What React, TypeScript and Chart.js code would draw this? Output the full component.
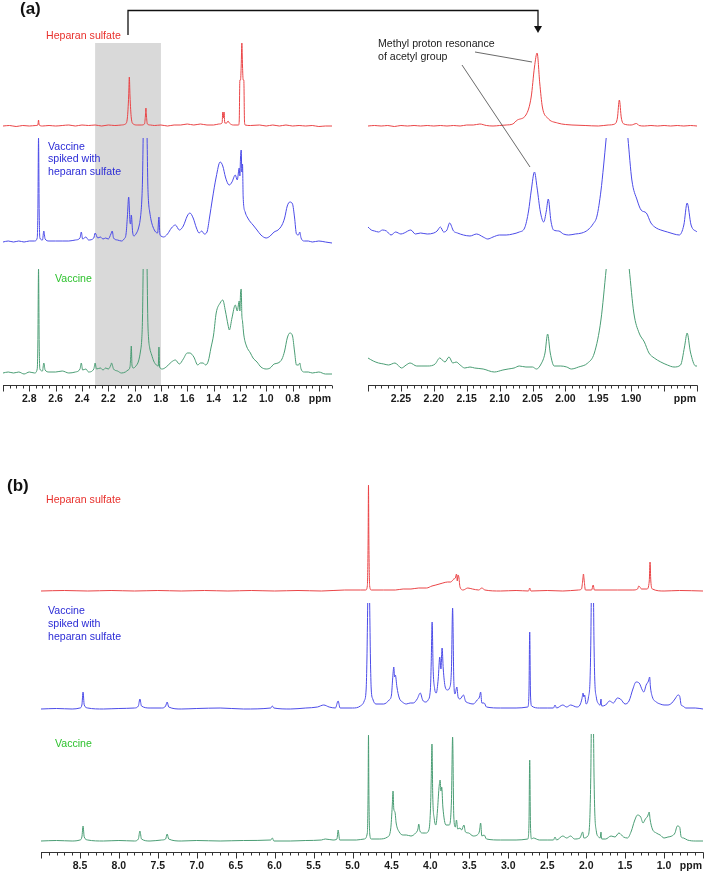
import React, { useEffect, useRef } from "react";
import { Chart, registerables } from "chart.js";

Chart.register(...registerables);

type Pt = [number, number | null];

// ---------- Panel (a) left: 3.0 – 0.5 ppm (intensity above each trace's baseline) ----------
const aLeftHeparan: Pt[] = [
  [3.0,0],[2.95,0.5],[2.9,-0.5],[2.85,0.5],[2.8,0],[2.75,0.5],[2.735,1],[2.73,6],[2.725,1],[2.7,0],[2.65,0.5],[2.6,0],[2.55,0.5],[2.5,1],[2.45,0],[2.4,1],[2.35,0.5],[2.3,1],[2.25,0],[2.2,1],[2.15,0.5],[2.1,1],[2.07,2],[2.055,8],[2.045,30],[2.04,49],[2.035,30],[2.025,8],[2.01,2],[1.98,1],[1.95,1],[1.925,2],[1.918,10],[1.914,18],[1.91,10],[1.903,2],[1.88,1],[1.85,0.5],[1.8,1],[1.75,0],[1.7,1],[1.65,1],[1.6,2],[1.55,1],[1.5,2],[1.45,1],[1.4,1],[1.36,2],[1.335,3],[1.33,14],[1.325,8],[1.32,14],[1.315,3],[1.3,3],[1.29,5],[1.28,3],[1.25,1],[1.21,1],[1.205,5],[1.2,46],[1.195,46],[1.19,60],[1.185,83],[1.18,60],[1.175,46],[1.17,46],[1.165,5],[1.16,1],[1.12,0.5],[1.05,1],[1.0,0],[0.95,1],[0.9,0],[0.85,1],[0.8,0],[0.75,0.5],[0.7,0],[0.65,0.5],[0.6,-0.5],[0.55,0],[0.5,0]
];
const aLeftSpiked: Pt[] = [
  [3.0,0],[2.96,1],[2.92,0],[2.88,1],[2.84,0],[2.8,1],[2.76,1],[2.74,4],[2.735,30],[2.73,104],[2.725,30],[2.72,4],[2.7,2],[2.69,11],[2.68,3],[2.65,1],[2.6,1],[2.55,1],[2.5,1],[2.45,2],[2.415,4],[2.405,10],[2.395,3],[2.37,5],[2.35,2],[2.31,4],[2.3,9],[2.28,4],[2.26,5],[2.24,3],[2.22,4],[2.2,3],[2.18,8],[2.17,11],[2.16,4],[2.13,2],[2.1,1],[2.08,3],[2.065,8],[2.055,25],[2.045,45],[2.035,20],[2.03,18],[2.025,27],[2.015,10],[2.005,6],[1.99,8],[1.97,14],[1.955,25],[1.946,40],[1.94,62],[1.935,104],[1.92,null],[1.905,104],[1.9,60],[1.894,40],[1.885,30],[1.875,22],[1.86,15],[1.84,10],[1.825,9],[1.815,25],[1.808,8],[1.8,6],[1.78,5],[1.75,8],[1.72,14],[1.69,17],[1.66,12],[1.63,16],[1.6,26],[1.58,29],[1.555,24],[1.53,14],[1.51,9],[1.49,11],[1.47,8],[1.45,10],[1.43,25],[1.41,42],[1.38,65],[1.35,80],[1.33,76],[1.31,65],[1.29,58],[1.28,57],[1.26,60],[1.235,67],[1.22,62],[1.205,74],[1.2,66],[1.195,85],[1.19,92],[1.185,70],[1.18,78],[1.175,45],[1.16,30],[1.14,24],[1.12,20],[1.1,17],[1.07,12],[1.04,7],[1.0,4],[0.97,6],[0.94,10],[0.91,12],[0.88,17],[0.86,24],[0.84,36],[0.82,40],[0.8,38],[0.785,25],[0.77,8],[0.755,7],[0.745,10],[0.735,4],[0.71,1],[0.68,1],[0.65,0],[0.6,1],[0.55,0],[0.5,-1]
];
const aLeftVaccine: Pt[] = [
  [3.0,0],[2.96,1],[2.92,0],[2.88,1],[2.84,-1],[2.8,1],[2.76,0],[2.74,4],[2.735,30],[2.73,104],[2.725,30],[2.72,4],[2.7,2],[2.69,10],[2.68,3],[2.65,1],[2.6,1],[2.55,2],[2.5,0],[2.45,1],[2.415,4],[2.405,10],[2.395,3],[2.37,4],[2.35,1],[2.31,4],[2.3,10],[2.29,4],[2.26,5],[2.24,3],[2.22,5],[2.2,4],[2.18,8],[2.175,10],[2.16,4],[2.13,2],[2.1,0],[2.07,1],[2.05,3],[2.035,6],[2.03,15],[2.025,27],[2.02,8],[2.01,5],[1.99,7],[1.97,12],[1.955,22],[1.946,33],[1.94,55],[1.935,104],[1.92,null],[1.905,104],[1.9,55],[1.894,35],[1.885,25],[1.87,18],[1.855,12],[1.835,8],[1.82,7],[1.815,26],[1.81,6],[1.79,4],[1.76,6],[1.72,11],[1.69,13],[1.66,9],[1.63,14],[1.6,20],[1.58,20],[1.55,16],[1.52,8],[1.5,10],[1.48,10],[1.46,8],[1.44,12],[1.42,25],[1.4,38],[1.38,60],[1.35,70],[1.33,73],[1.31,62],[1.29,48],[1.28,43],[1.26,55],[1.235,68],[1.22,62],[1.205,72],[1.2,62],[1.195,80],[1.19,84],[1.185,58],[1.18,52],[1.17,38],[1.15,27],[1.12,20],[1.1,15],[1.07,11],[1.04,6],[1.0,4],[0.97,5],[0.94,9],[0.91,10],[0.88,14],[0.86,22],[0.84,35],[0.82,40],[0.8,37],[0.785,22],[0.77,8],[0.755,8],[0.745,10],[0.735,4],[0.71,1],[0.68,1],[0.65,0],[0.6,1],[0.55,-1],[0.5,-1]
];

// ---------- Panel (a) right: 2.30 – 1.80 ppm ----------
const aRightHeparan: Pt[] = [
  [2.3,0],[2.29,0.5],[2.28,0],[2.27,0.5],[2.26,-0.5],[2.25,0.5],[2.24,0],[2.23,0.5],[2.22,0],[2.21,0.5],[2.2,0],[2.19,0.5],[2.18,0],[2.17,0.5],[2.16,0],[2.15,1],[2.14,1],[2.13,2],[2.12,0.5],[2.11,0],[2.1,0.5],[2.09,1],[2.08,2],[2.073,6],[2.06,11],[2.052,29],[2.047,59],[2.043,73],[2.039,43],[2.035,19],[2.027,8],[2.012,3],[2.0,1.5],[1.99,1],[1.97,0.5],[1.95,0],[1.935,1],[1.925,2],[1.921,8],[1.918,26],[1.915,8],[1.911,2],[1.9,1],[1.892,2.5],[1.888,0.5],[1.88,0],[1.87,0.5],[1.86,0],[1.85,0.5],[1.84,0],[1.83,0.5],[1.82,0],[1.81,0.5],[1.8,0]
];
const aRightSpiked: Pt[] = [
  [2.3,9],[2.295,6],[2.29,5],[2.284,4],[2.278,6],[2.272,5],[2.265,1],[2.258,4],[2.25,2],[2.245,3],[2.235,6],[2.228,2],[2.22,3],[2.21,2],[2.2,3],[2.195,5],[2.19,9],[2.185,4],[2.18,6],[2.176,13],[2.17,5],[2.164,3],[2.155,1],[2.145,0],[2.135,2],[2.125,-1],[2.118,-3],[2.11,-1],[2.1,1],[2.09,1],[2.08,2],[2.07,4],[2.062,8],[2.056,25],[2.052,45],[2.047,64],[2.043,48],[2.038,24],[2.033,14],[2.029,25],[2.026,37],[2.022,15],[2.018,6],[2.01,5],[2.003,2],[1.995,1],[1.985,2],[1.975,3],[1.966,6],[1.958,12],[1.952,20],[1.946,45],[1.942,70],[1.938,98],[1.92,null],[1.905,98],[1.899,56],[1.891,36],[1.885,26],[1.877,23],[1.87,13],[1.862,8],[1.855,6],[1.845,4],[1.835,2],[1.827,1],[1.82,11],[1.815,33],[1.809,11],[1.8,4]
];
const aRightVaccine: Pt[] = [
  [2.3,9],[2.292,6],[2.284,4],[2.276,3],[2.269,2],[2.259,4],[2.249,-1],[2.242,2],[2.236,4],[2.226,1],[2.218,1],[2.209,1],[2.198,3],[2.191,9],[2.183,5],[2.177,10],[2.171,4],[2.166,5],[2.16,2],[2.153,-1],[2.145,0],[2.138,-1],[2.125,-2],[2.108,-5],[2.095,-3],[2.087,-2],[2.078,-1],[2.07,1],[2.06,0],[2.05,0],[2.044,-2],[2.037,3],[2.031,14],[2.027,33],[2.023,14],[2.017,1],[2.007,1],[1.998,0],[1.991,-2],[1.98,0],[1.966,4],[1.956,14],[1.946,47],[1.938,98],[1.92,null],[1.903,98],[1.896,54],[1.888,34],[1.88,25],[1.873,14],[1.865,9],[1.855,5],[1.845,2],[1.835,0],[1.825,2],[1.819,20],[1.815,34],[1.81,15],[1.802,1],[1.8,1]
];

// ---------- Panel (b): 9.0 – 0.5 ppm ----------
const bHeparan: Pt[] = [
  [9.0,0],[8.7,0.5],[8.4,0],[8.1,0.5],[7.8,0],[7.5,0.5],[7.2,0],[6.9,0.5],[6.6,0],[6.3,0.5],[6.0,0],[5.7,0.5],[5.4,0],[5.1,1],[4.9,1],[4.83,1],[4.81,5],[4.8,50],[4.795,106],[4.79,50],[4.78,5],[4.76,1],[4.6,1],[4.45,1],[4.35,2],[4.25,2],[4.15,3],[4.05,3],[3.98,5],[3.93,6],[3.84,8],[3.78,9],[3.74,9],[3.7,12],[3.68,13],[3.665,17],[3.655,10],[3.645,16],[3.635,14],[3.62,4],[3.58,1],[3.52,3],[3.46,2],[3.38,1],[3.34,3],[3.3,1],[3.1,0],[2.9,0.5],[2.74,0],[2.725,3],[2.71,0],[2.5,0.5],[2.3,0],[2.1,1],[2.06,2],[2.045,10],[2.035,17],[2.025,10],[2.01,1],[1.93,1],[1.91,6],[1.895,1],[1.6,1],[1.4,1],[1.34,2],[1.325,5],[1.31,4],[1.29,2],[1.22,2],[1.19,10],[1.18,29],[1.17,10],[1.15,2],[1.0,0],[0.8,0.5],[0.5,0]
];
const bSpiked: Pt[] = [
  [9.0,0],[8.8,0.5],[8.6,0],[8.5,1],[8.475,4],[8.46,17],[8.445,4],[8.4,1],[8.2,0],[8.0,0.5],[7.8,1],[7.75,3],[7.73,10],[7.71,3],[7.6,1],[7.45,1],[7.4,3],[7.38,7],[7.36,2],[7.2,0],[7.0,0.5],[6.7,1],[6.4,0],[6.05,1],[6.03,3],[6.01,1],[5.8,0],[5.6,1],[5.45,2],[5.37,4],[5.3,2],[5.22,1],[5.185,8],[5.16,1],[5.0,1],[4.9,3],[4.85,8],[4.825,20],[4.815,50],[4.805,106],[4.79,null],[4.78,106],[4.77,50],[4.76,20],[4.74,10],[4.7,5],[4.6,5],[4.53,9],[4.5,14],[4.485,30],[4.47,42],[4.46,32],[4.45,34],[4.43,22],[4.4,11],[4.36,7],[4.31,5],[4.26,6],[4.22,6],[4.17,10],[4.13,16],[4.1,9],[4.06,7],[4.03,9],[4.0,20],[3.99,45],[3.978,87],[3.965,40],[3.945,20],[3.925,16],[3.9,30],[3.88,52],[3.865,40],[3.85,61],[3.835,40],[3.81,22],[3.78,19],[3.755,21],[3.73,40],[3.715,101],[3.7,30],[3.685,15],[3.66,22],[3.645,12],[3.62,10],[3.575,14],[3.55,8],[3.51,6],[3.45,5],[3.4,9],[3.37,12],[3.355,17],[3.34,6],[3.31,6],[3.28,2],[3.1,1],[2.9,1],[2.75,2],[2.735,15],[2.725,77],[2.715,15],[2.7,3],[2.6,1],[2.5,1],[2.42,1],[2.4,4],[2.38,1],[2.3,4],[2.25,2],[2.2,4],[2.12,2],[2.08,4],[2.055,10],[2.04,16],[2.03,12],[2.02,14],[2.0,5],[1.97,12],[1.95,30],[1.94,70],[1.935,106],[1.92,null],[1.905,106],[1.9,70],[1.89,30],[1.87,12],[1.84,5],[1.82,4],[1.81,10],[1.8,3],[1.75,4],[1.7,8],[1.65,6],[1.6,11],[1.56,10],[1.5,5],[1.45,8],[1.4,20],[1.36,27],[1.32,26],[1.28,19],[1.26,17],[1.23,24],[1.2,28],[1.185,32],[1.175,22],[1.15,12],[1.1,7],[1.05,5],[1.0,4],[0.95,4],[0.9,6],[0.86,10],[0.82,14],[0.8,13],[0.78,4],[0.76,3],[0.72,1],[0.6,1],[0.5,0]
];
const bVaccine: Pt[] = [
  [9.0,0],[8.8,0.5],[8.6,0],[8.5,1],[8.475,4],[8.46,15],[8.445,4],[8.4,1],[8.2,0],[8.0,0.5],[7.8,0],[7.75,2],[7.73,10],[7.71,2],[7.6,0],[7.45,1],[7.4,2],[7.38,7],[7.36,2],[7.2,0],[7.0,0.5],[6.7,0],[6.4,0.5],[6.05,1],[6.03,3],[6.01,0],[5.8,0],[5.6,0.5],[5.4,1],[5.35,2],[5.25,1],[5.2,2],[5.185,11],[5.165,1],[4.95,1],[4.85,2],[4.81,8],[4.8,50],[4.795,106],[4.79,50],[4.78,8],[4.76,2],[4.65,2],[4.55,4],[4.51,12],[4.49,35],[4.48,50],[4.47,32],[4.455,29],[4.44,18],[4.4,9],[4.35,6],[4.31,6],[4.25,5],[4.19,8],[4.16,12],[4.15,17],[4.135,10],[4.1,8],[4.06,8],[4.02,11],[4.0,30],[3.99,60],[3.98,97],[3.97,45],[3.95,22],[3.93,16],[3.91,30],[3.89,53],[3.875,61],[3.865,50],[3.855,54],[3.84,34],[3.8,16],[3.76,16],[3.73,40],[3.715,104],[3.7,25],[3.68,14],[3.665,21],[3.65,12],[3.62,13],[3.6,11],[3.57,16],[3.55,9],[3.51,8],[3.45,5],[3.4,6],[3.37,10],[3.355,18],[3.34,5],[3.31,6],[3.28,2],[3.1,1],[2.9,1],[2.75,2],[2.735,15],[2.725,81],[2.715,15],[2.7,2],[2.68,3],[2.6,1],[2.5,1],[2.42,1],[2.4,4],[2.38,1],[2.3,5],[2.25,3],[2.2,5],[2.15,2],[2.08,3],[2.045,9],[2.03,3],[1.98,5],[1.96,12],[1.95,30],[1.94,70],[1.935,107],[1.92,null],[1.905,107],[1.9,70],[1.89,30],[1.87,10],[1.84,4],[1.82,3],[1.81,9],[1.8,2],[1.75,2],[1.68,5],[1.63,4],[1.58,8],[1.52,4],[1.47,3],[1.42,10],[1.38,20],[1.34,26],[1.3,24],[1.27,18],[1.24,22],[1.21,25],[1.19,29],[1.18,22],[1.15,12],[1.1,8],[1.05,6],[1.0,3],[0.95,4],[0.9,5],[0.86,8],[0.83,15],[0.8,14],[0.78,4],[0.75,3],[0.7,1],[0.6,0],[0.5,0]
];

// ---------- Axis ticks ----------
const aLeftMajorTicks = [3.0, 2.8, 2.6, 2.4, 2.2, 2.0, 1.8, 1.6, 1.4, 1.2, 1.0, 0.8, 0.6];
const aLeftTickLabels = [2.8, 2.6, 2.4, 2.2, 2.0, 1.8, 1.6, 1.4, 1.2, 1.0, 0.8];
const aRightMajorTicks = [2.3, 2.25, 2.2, 2.15, 2.1, 2.05, 2.0, 1.95, 1.9, 1.85, 1.8];
const aRightTickLabels = [2.25, 2.2, 2.15, 2.1, 2.05, 2.0, 1.95, 1.9];
const bMajorTicks = [9.0, 8.5, 8.0, 7.5, 7.0, 6.5, 6.0, 5.5, 5.0, 4.5, 4.0, 3.5, 3.0, 2.5, 2.0, 1.5, 1.0, 0.5];
const bTickLabels = [8.5, 8.0, 7.5, 7.0, 6.5, 6.0, 5.5, 5.0, 4.5, 4.0, 3.5, 3.0, 2.5, 2.0, 1.5, 1.0];
const highlightRange = [2.3, 1.8];

// ---------- Styles ----------
const RED = "#ea4446";
const BLUE = "#4b4be8";
const GREEN = "#4a9d74";
const RED_TXT = "#e8302c";
const BLUE_TXT = "#2b2bd6";
const GREEN_TXT = "#2ec22e";
const FONT = "'Liberation Sans', Arial, Helvetica, sans-serif";
const PAD = 2;
const AXIS_SPACE = 20;

interface Series { data: Pt[]; color: string; offset: number }
interface PanelSpec {
  axisLeft: number; axisWidth: number; top: number; areaHeight: number;
  xMin: number; xMax: number;
  series: Series[];
  majors: number[]; labels: number[]; minorStep: number; digits: number;
  band?: { from: number; to: number; top: number };
}

function Spectrum({ spec }: { spec: PanelSpec }) {
  const ref = useRef<HTMLCanvasElement | null>(null);
  useEffect(() => {
    const canvas = ref.current;
    if (!canvas) return;
    const plugin = {
      id: "nmrAxis",
      beforeDatasetsDraw(chart: any) {
        if (!spec.band) return;
        const { ctx, chartArea } = chart;
        const xs = chart.scales.x, ys = chart.scales.y;
        const x1 = xs.getPixelForValue(spec.band.from);
        const x2 = xs.getPixelForValue(spec.band.to);
        const yt = ys.getPixelForValue(spec.band.top);
        ctx.save();
        ctx.fillStyle = "#d9d9d9";
        ctx.fillRect(Math.min(x1, x2), yt, Math.abs(x2 - x1), chartArea.bottom - yt);
        ctx.restore();
      },
      afterDraw(chart: any) {
        const { ctx, chartArea } = chart;
        const xs = chart.scales.x;
        const y0 = Math.round(chartArea.bottom) + 0.5;
        ctx.save();
        ctx.strokeStyle = "#333";
        ctx.lineWidth = 1;
        ctx.beginPath();
        ctx.moveTo(xs.getPixelForValue(spec.xMax), y0);
        ctx.lineTo(xs.getPixelForValue(spec.xMin), y0);
        const n = Math.round((spec.xMax - spec.xMin) / spec.minorStep);
        for (let i = 0; i <= n; i++) {
          const v = spec.xMin + i * spec.minorStep;
          const px = Math.round(xs.getPixelForValue(v)) + 0.5;
          ctx.moveTo(px, y0);
          ctx.lineTo(px, y0 + 3);
        }
        spec.majors.forEach((v) => {
          const px = Math.round(xs.getPixelForValue(v)) + 0.5;
          ctx.moveTo(px, y0);
          ctx.lineTo(px, y0 + 6);
        });
        ctx.stroke();
        ctx.fillStyle = "#1a1a1a";
        ctx.font = `bold 10.5px ${FONT}`;
        ctx.textAlign = "center";
        ctx.textBaseline = "middle";
        spec.labels.forEach((v) => {
          ctx.fillText(v.toFixed(spec.digits), xs.getPixelForValue(v), y0 + 14);
        });
        ctx.textAlign = "right";
        ctx.fillText("ppm", xs.getPixelForValue(spec.xMin) - 1, y0 + 14);
        ctx.restore();
      },
    };
    const chart = new Chart(canvas, {
      type: "line",
      data: {
        datasets: spec.series.map((s) => ({
          data: s.data.map(([x, y]) => ({ x, y: y === null ? null : y + s.offset })),
          borderColor: s.color,
          borderWidth: 1,
          pointRadius: 0,
          cubicInterpolationMode: "monotone",
          spanGaps: false,
          fill: false,
        })),
      },
      options: {
        responsive: false,
        animation: false,
        devicePixelRatio: 1,
        events: [],
        layout: { padding: { top: 0, left: PAD, right: PAD, bottom: AXIS_SPACE } },
        scales: {
          x: { type: "linear", min: spec.xMin, max: spec.xMax, reverse: true, display: false },
          y: { type: "linear", min: 0, max: spec.areaHeight, display: false },
        },
        plugins: { legend: { display: false }, tooltip: { enabled: false } },
      },
      plugins: [plugin],
    } as any);
    return () => chart.destroy();
  }, [spec]);
  const w = spec.axisWidth + 2 * PAD;
  const h = spec.areaHeight + AXIS_SPACE;
  return (
    <canvas
      ref={ref}
      width={w}
      height={h}
      style={{ position: "absolute", left: spec.axisLeft - PAD, top: spec.top, width: w, height: h }}
    />
  );
}

const panelALeft: PanelSpec = {
  axisLeft: 3, axisWidth: 329, top: 40, areaHeight: 345,
  xMin: 0.5, xMax: 3.0,
  series: [
    { data: aLeftHeparan, color: RED, offset: 259 },
    { data: aLeftSpiked, color: BLUE, offset: 143 },
    { data: aLeftVaccine, color: GREEN, offset: 12 },
  ],
  majors: aLeftMajorTicks, labels: aLeftTickLabels, minorStep: 0.05, digits: 1,
  band: { from: highlightRange[0], to: highlightRange[1], top: 342 },
};
const panelARight: PanelSpec = {
  axisLeft: 368, axisWidth: 329, top: 40, areaHeight: 345,
  xMin: 1.8, xMax: 2.3,
  series: [
    { data: aRightHeparan, color: RED, offset: 259 },
    { data: aRightSpiked, color: BLUE, offset: 149 },
    { data: aRightVaccine, color: GREEN, offset: 18 },
  ],
  majors: aRightMajorTicks, labels: aRightTickLabels, minorStep: 0.01, digits: 2,
};
const panelB: PanelSpec = {
  axisLeft: 41, axisWidth: 662, top: 470, areaHeight: 382,
  xMin: 0.5, xMax: 9.0,
  series: [
    { data: bHeparan, color: RED, offset: 261 },
    { data: bSpiked, color: BLUE, offset: 143 },
    { data: bVaccine, color: GREEN, offset: 11 },
  ],
  majors: bMajorTicks, labels: bTickLabels, minorStep: 0.1, digits: 1,
};

function Label({ x, cy, lines, color, size = 10.6, lh = 12.5, bold = false }: any) {
  return (
    <div
      style={{
        position: "absolute", left: x, top: cy - lh / 2, color, fontFamily: FONT,
        fontSize: size, lineHeight: `${lh}px`, whiteSpace: "nowrap", fontWeight: bold ? "bold" : "normal",
      }}
    >
      {lines.map((t: string, i: number) => (<div key={i}>{t}</div>))}
    </div>
  );
}

export default function App() {
  return (
    <div style={{ position: "absolute", left: 0, top: 0, width: 709, height: 873, overflow: "hidden", background: "#fff" }}>
      <Spectrum spec={panelALeft} />
      <Spectrum spec={panelARight} />
      <Spectrum spec={panelB} />
      <svg width={709} height={873} style={{ position: "absolute", left: 0, top: 0, pointerEvents: "none" }}>
        <polyline points="128,35 128,10.5 538,10.5 538,27" fill="none" stroke="#111" strokeWidth={1.3} />
        <polygon points="534,26 542,26 538,33" fill="#111" />
        <line x1={475} y1={52} x2={532} y2={62} stroke="#444" strokeWidth={0.8} />
        <line x1={462} y1={65} x2={530} y2={167} stroke="#444" strokeWidth={0.8} />
      </svg>
      <Label x={20} cy={9} lines={["(a)"]} color="#111" size={17} lh={20} bold />
      <Label x={7} cy={486} lines={["(b)"]} color="#111" size={17} lh={20} bold />
      <Label x={46} cy={35} lines={["Heparan sulfate"]} color={RED_TXT} />
      <Label x={48} cy={146} lines={["Vaccine", "spiked with", "heparan sulfate"]} color={BLUE_TXT} />
      <Label x={55} cy={278} lines={["Vaccine"]} color={GREEN_TXT} />
      <Label x={378} cy={43} lines={["Methyl proton resonance", "of acetyl group"]} color="#222" lh={13} />
      <Label x={46} cy={499} lines={["Heparan sulfate"]} color={RED_TXT} />
      <Label x={48} cy={610} lines={["Vaccine", "spiked with", "heparan sulfate"]} color={BLUE_TXT} lh={13} />
      <Label x={55} cy={743} lines={["Vaccine"]} color={GREEN_TXT} />
    </div>
  );
}
